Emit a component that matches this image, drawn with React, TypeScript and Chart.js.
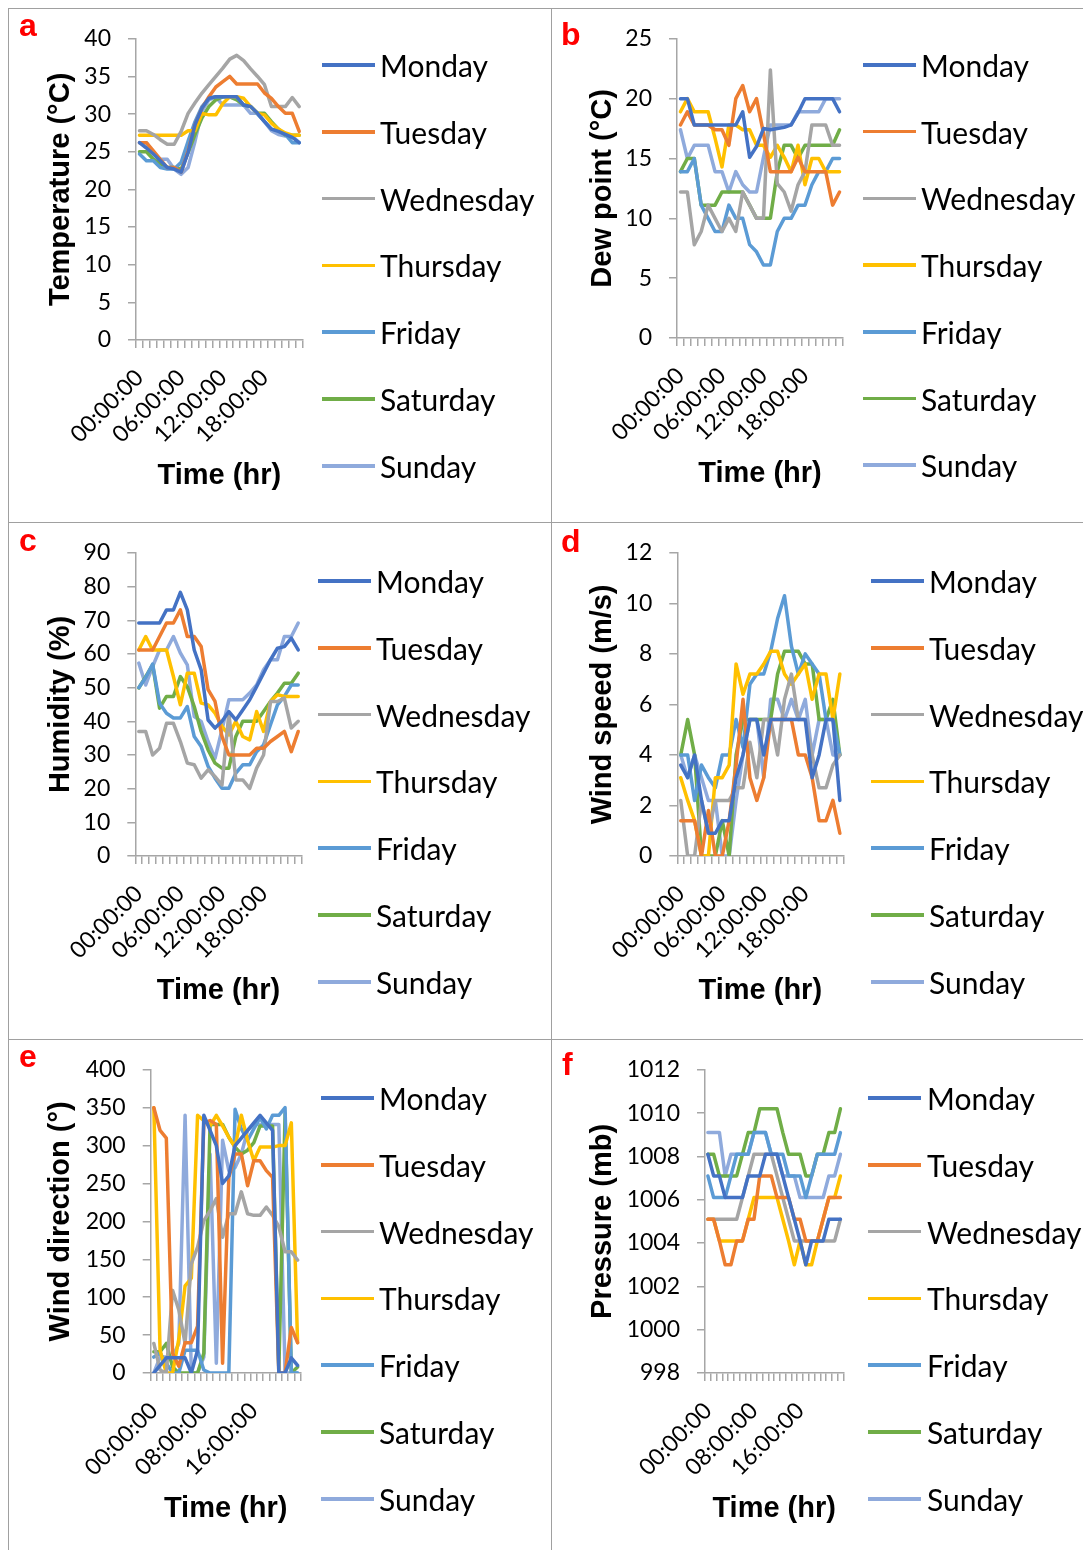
import React, { useEffect, useRef } from "react";
import { Chart, registerables } from "chart.js";

Chart.register(...registerables);

// ---- data -------------------------------------------------------------

const HOURS = [
  "00:00:00", "01:00:00", "02:00:00", "03:00:00", "04:00:00", "05:00:00",
  "06:00:00", "07:00:00", "08:00:00", "09:00:00", "10:00:00", "11:00:00",
  "12:00:00", "13:00:00", "14:00:00", "15:00:00", "16:00:00", "17:00:00",
  "18:00:00", "19:00:00", "20:00:00", "21:00:00", "22:00:00", "23:00:00",
];

const DAYS = ["Monday", "Tuesday", "Wednesday", "Thursday", "Friday", "Saturday", "Sunday"];
const DAY_COLORS = ["#4472C4", "#ED7D31", "#A5A5A5", "#FFC000", "#5B9BD5", "#70AD47", "#8FAADC"];

// one row per day, Monday..Sunday, hourly readings
const temperature = [
  [26.2, 25.5, 24.7, 23.8, 22.9, 22.7, 22.3, 24.9, 28.6, 30.8, 32.1, 32.3, 32.3, 32.3, 32.3, 31.2, 31, 30.1, 29, 28, 27.7, 27.3, 26.9, 26.2],
  [26.2, 26.2, 25.1, 24, 22.9, 22.9, 22.3, 25.1, 28.6, 30.8, 32.3, 33.6, 34.3, 35, 34, 34, 34, 34, 32.8, 32.1, 31, 30.1, 30.1, 27.7],
  [27.8, 27.8, 27.3, 26.6, 26, 26, 27.7, 30.1, 31.5, 32.8, 33.9, 35, 36.1, 37.3, 37.8, 37.1, 36, 35, 33.9, 31, 31, 31, 32.2, 31],
  [27.2, 27.2, 27.2, 27.2, 27.2, 27.2, 27.2, 27.8, 27.8, 30.1, 29.9, 29.9, 31.4, 32.3, 32.3, 32.1, 31, 30.1, 29.9, 28.8, 28, 27.5, 27.2, 27.2],
  [24.7, 23.8, 23.8, 22.9, 22.7, 22.7, 23.6, 26.4, 29, 31, 32.1, 32.3, 32.3, 32.3, 32.3, 31.2, 31, 30, 29, 28, 27.8, 27.3, 26.2, 26.2],
  [25, 25, 24, 23.4, 22.9, 22.9, 22.7, 24.9, 27.3, 29.5, 31, 31.9, 32.3, 32.3, 31.9, 31.2, 31, 30.1, 30.1, 29, 28, 27.2, 27.2, 27.2],
  [26.2, 26.2, 24.9, 24, 24, 22.7, 22, 22.9, 26.4, 30.4, 31.9, 32.3, 31.2, 31.2, 31.2, 31.2, 30.1, 30.1, 29, 27.8, 27.3, 27.1, 27.1, 26.2],
];

const dewPoint = [
  [20, 20, 17.8, 17.8, 17.8, 17.8, 17.8, 17.8, 17.8, 18.9, 15.1, 16, 17.5, 17.4, 17.5, 17.6, 17.8, 18.8, 20, 20, 20, 20, 20, 18.9],
  [17.8, 18.9, 17.8, 17.8, 17.8, 17.4, 17.4, 16.1, 20, 21.1, 18.9, 20, 17.1, 13.9, 13.9, 13.9, 13.9, 15.1, 13.9, 13.9, 13.9, 13.9, 11.1, 12.2],
  [12.2, 12.2, 7.8, 8.9, 11.1, 10, 8.9, 10, 8.9, 12.2, 11.1, 10, 10, 22.4, 12.9, 12.2, 10.6, 12.8, 13.9, 17.8, 17.8, 17.8, 16.1, 16.1],
  [18.9, 20, 18.9, 18.9, 18.9, 16.7, 14.3, 17.8, 17.8, 17.4, 17.4, 16.1, 16.1, 15.1, 16.1, 15.1, 13.9, 16.1, 12.8, 15, 15, 13.9, 13.9, 13.9],
  [13.9, 13.9, 15, 11.1, 10, 8.9, 8.9, 11.1, 10, 10, 7.8, 7.2, 6.1, 6.1, 8.9, 10, 10, 11.1, 11.1, 12.8, 13.9, 13.9, 15, 15],
  [13.9, 15, 15, 11.1, 11.1, 11.1, 12.2, 12.2, 12.2, 12.2, 11.1, 10, 10, 10, 13.9, 16.1, 16.1, 15, 16.1, 16.1, 16.1, 16.1, 16.1, 17.4],
  [17.4, 15, 16.1, 16.1, 16.1, 13.9, 13.9, 12.2, 13.9, 12.8, 12.2, 12.2, 15.1, 17.8, 17.8, 17.8, 17.8, 18.9, 18.9, 18.9, 18.9, 20, 20, 20],
];

const humidity = [
  [69.2, 69.2, 69.2, 69.2, 73.1, 73.1, 78.3, 73.1, 61.2, 55.3, 40.4, 38, 40, 42.9, 40.4, 43.4, 46.4, 50.3, 54.3, 58.3, 61.7, 62.2, 64.7, 61.2],
  [61.2, 61.2, 61.2, 65.2, 69.2, 69.2, 73.1, 65.2, 65.2, 62.2, 49.4, 45.9, 35.5, 30, 30, 30, 30, 32, 32, 34, 35.5, 37, 31, 37],
  [37, 37, 30, 32, 39.4, 39.4, 34, 27.6, 27.1, 23.1, 25.6, 23.6, 21.1, 42.4, 22.6, 22.6, 20.1, 26.1, 30, 45.9, 45.9, 46.9, 38, 40],
  [61.2, 65.2, 61.2, 61.2, 61.2, 53.3, 44.9, 54.3, 54.3, 45.4, 44.9, 42.4, 38.5, 36, 40, 35.5, 34.5, 42.9, 37, 45.9, 47.9, 47.4, 47.4, 47.4],
  [50, 53, 57, 45.4, 42.4, 41, 41, 44.4, 35.5, 32.5, 26.6, 23.1, 20.1, 20.1, 24.6, 27.1, 27.1, 31, 33, 39, 44.9, 47.4, 50.8, 50.8],
  [49.9, 53.3, 56.8, 43.9, 47.4, 47.4, 53.3, 50.3, 44.4, 37, 31.5, 27.6, 26.1, 26.1, 35.5, 40, 40, 40, 42.9, 45.9, 48.4, 51.3, 51.3, 54.3],
  [57.3, 50.8, 56.3, 61.2, 61.2, 65.2, 60.3, 56.8, 41.4, 40, 34, 29, 37.5, 46.4, 46.4, 46.4, 48.4, 50.8, 55.3, 58.3, 58.3, 65.2, 65.2, 69.2],
];

const windSpeed = [
  [3.6, 3.1, 4, 2.2, 0.9, 0.9, 1.4, 1.4, 3.1, 4, 5.4, 5.4, 4, 5.4, 5.4, 5.4, 5.4, 5.4, 5.4, 3.1, 4, 5.4, 5.4, 2.2],
  [1.4, 1.4, 1.4, 0, 1.8, 0, 0, 1.4, 3.6, 6.2, 3.1, 2.2, 3.1, 5.4, 5.4, 5.4, 5.4, 4, 4, 3.1, 1.4, 1.4, 2.2, 0.9],
  [2.2, 0, 0, 2.2, 0.9, 2.2, 2.2, 2.2, 2.7, 2.7, 4.5, 3.1, 5.4, 5.4, 4, 6.2, 7.2, 5.4, 5.4, 4, 2.7, 2.7, 3.6, 4],
  [3.1, 2.2, 1.4, 0, 0, 3.1, 3.1, 3.6, 7.6, 6.4, 7.2, 7.2, 7.6, 8.1, 8.1, 7.2, 6.8, 7.2, 7.6, 6.2, 7.2, 7.2, 5.4, 7.2],
  [4, 4, 2.2, 3.6, 3.1, 2.7, 4, 4, 5.4, 4.3, 6.8, 7.2, 7.2, 8.1, 9.4, 10.3, 8.3, 7.2, 8, 7.6, 7.2, 5.4, 5.4, 4],
  [4, 5.4, 4, 0, 0, 0, 1.4, 0, 4, 5.4, 5.4, 5.4, 5.4, 5.4, 7.2, 8.1, 8.1, 8.1, 7.6, 7.6, 5.4, 5.4, 6.2, 4],
  [4, 3.1, 4, 3.1, 2.2, 2.2, 0, 0, 2.2, 4, 5.4, 5.4, 3.1, 6.2, 6.2, 5.4, 6.2, 5.4, 6.2, 4, 5.4, 5.4, 4, 4],
];

const windDirection = [
  [0, 10, 20, 20, 20, 20, 0, 30, 340, 320, 300, 250, 260, 300, 310, 320, 330, 340, 330, 320, 0, 0, 20, 10],
  [350, 320, 310, 26, 9, 40, 40, 62, 330, 333, 328, 13, 258, 289, 289, 247, 280, 280, 267, 258, 0, 0, 60, 40],
  [39, 4, 0, 109, 83, 39, 144, 166, 201, 214, 230, 179, 210, 210, 239, 210, 208, 208, 219, 208, 193, 160, 160, 149],
  [350, 30, 0, 0, 45, 115, 125, 340, 333, 326, 340, 326, 311, 298, 340, 307, 280, 298, 298, 298, 300, 300, 330, 40],
  [21, 26, 13, 0, 0, 30, 30, 30, 4, 0, 0, 0, 0, 348, 322, 307, 322, 337, 322, 340, 340, 350, 0, 0],
  [28, 28, 39, 8, 0, 0, 0, 0, 26, 328, 328, 328, 311, 298, 289, 294, 304, 326, 326, 326, 4, 342, 0, 8],
  [0, 21, 21, 21, 39, 340, 0, 0, 21, 289, 13, 307, 267, 271, 289, 320, 328, 328, 328, 328, 328, 0, 0, 0],
];

const pressure = [
  [1008.1, 1007.1, 1007.1, 1006.1, 1006.1, 1006.1, 1006.1, 1007.1, 1007.1, 1007.1, 1008.1, 1008.1, 1008.1, 1007.1, 1006.1, 1005.1, 1004.1, 1003.0, 1004.1, 1004.1, 1004.1, 1005.1, 1005.1, 1005.1],
  [1005.1, 1005.1, 1004.1, 1003.0, 1003.0, 1004.1, 1004.1, 1005.1, 1005.1, 1007.1, 1007.1, 1007.1, 1006.1, 1006.1, 1006.1, 1005.1, 1005.1, 1004.1, 1004.1, 1004.1, 1005.1, 1006.1, 1006.1, 1006.1],
  [1005.1, 1005.1, 1005.1, 1005.1, 1005.1, 1005.1, 1006.1, 1007.1, 1008.1, 1008.1, 1008.1, 1008.1, 1007.1, 1006.1, 1005.1, 1004.1, 1004.1, 1004.1, 1004.1, 1004.1, 1004.1, 1004.1, 1004.1, 1005.1],
  [1005.1, 1005.1, 1004.1, 1004.1, 1004.1, 1004.1, 1004.1, 1005.1, 1006.1, 1006.1, 1006.1, 1006.1, 1006.1, 1005.1, 1004.1, 1003.0, 1004.1, 1003.0, 1003.0, 1004.1, 1005.1, 1006.1, 1006.1, 1007.1],
  [1007.1, 1006.1, 1006.1, 1006.1, 1007.1, 1008.1, 1008.1, 1008.1, 1009.1, 1009.1, 1009.1, 1008.1, 1008.1, 1008.1, 1007.1, 1007.1, 1007.1, 1006.1, 1007.1, 1008.1, 1008.1, 1008.1, 1008.1, 1009.1],
  [1008.1, 1008.1, 1007.1, 1007.1, 1007.1, 1007.1, 1008.1, 1009.1, 1009.1, 1010.2, 1010.2, 1010.2, 1010.2, 1009.1, 1008.1, 1008.1, 1008.1, 1007.1, 1007.1, 1008.1, 1008.1, 1009.1, 1009.1, 1010.2],
  [1009.1, 1009.1, 1009.1, 1007.1, 1008.1, 1008.1, 1008.1, 1008.1, 1009.1, 1009.1, 1009.1, 1008.1, 1008.1, 1007.1, 1007.1, 1007.1, 1006.1, 1006.1, 1006.1, 1006.1, 1006.1, 1007.1, 1007.1, 1008.1],
];

// ---- layout -----------------------------------------------------------

const AXIS_COLOR = "#A6A6A6";
const FRAME_COLOR = "#A0A0A0";
const TICK_FONT = { family: "Lato, 'Liberation Sans', sans-serif", size: 23 };
const TITLE_SIZE = 29;
const TITLE_FONT = { family: "'Liberation Sans', Arial, sans-serif", size: TITLE_SIZE, weight: "bold" as const, lineHeight: 1.2 };
const LEGEND_FONT_SIZE = 30;
const SERIES_WIDTH = 3.5;

type PanelSpec = {
  letter: string;
  letterX: number;
  letterBase: number;
  cellX: number;
  cellY: number;
  cellW: number;
  cellH: number;
  axisX: number;
  plotTop: number;
  plotBottom: number;
  plotRight: number;
  yTitle: string;
  yTitleX: number;
  xTitleY: number;
  yMin: number;
  yMax: number;
  yStep: number;
  labelEvery: number;
  legendLineX: number;
  legendTextX: number;
  legendY0: number;
  legendDY: number;
  series: number[][];
};

const PANELS: PanelSpec[] = [
  {
    letter: "a", letterX: 19, letterBase: 36,
    cellX: 8, cellY: 8, cellW: 543, cellH: 514,
    axisX: 136, plotTop: 37, plotBottom: 340, plotRight: 302.7,
    yTitle: "Temperature (°C)", yTitleX: 61, xTitleY: 476,
    yMin: 0, yMax: 40, yStep: 5, labelEvery: 6,
    legendLineX: 322, legendTextX: 380, legendY0: 65, legendDY: 66.8,
    series: temperature,
  },
  {
    letter: "b", letterX: 561, letterBase: 45,
    cellX: 551, cellY: 8, cellW: 540, cellH: 514,
    axisX: 677, plotTop: 37, plotBottom: 338, plotRight: 843,
    yTitle: "Dew point (°C)", yTitleX: 603, xTitleY: 474,
    yMin: 0, yMax: 25, yStep: 5, labelEvery: 6,
    legendLineX: 863, legendTextX: 921, legendY0: 65, legendDY: 66.7,
    series: dewPoint,
  },
  {
    letter: "c", letterX: 19, letterBase: 551,
    cellX: 8, cellY: 522, cellW: 543, cellH: 517,
    axisX: 135.3, plotTop: 553, plotBottom: 856, plotRight: 301.7,
    yTitle: "Humidity (%)", yTitleX: 61, xTitleY: 991,
    yMin: 0, yMax: 90, yStep: 10, labelEvery: 6,
    legendLineX: 318, legendTextX: 376, legendY0: 581, legendDY: 66.8,
    series: humidity,
  },
  {
    letter: "d", letterX: 561, letterBase: 552,
    cellX: 551, cellY: 522, cellW: 540, cellH: 517,
    axisX: 677.3, plotTop: 552, plotBottom: 856, plotRight: 843.3,
    yTitle: "Wind speed (m/s)", yTitleX: 603, xTitleY: 991,
    yMin: 0, yMax: 12, yStep: 2, labelEvery: 6,
    legendLineX: 871, legendTextX: 929, legendY0: 581, legendDY: 66.8,
    series: windSpeed,
  },
  {
    letter: "e", letterX: 19, letterBase: 1067,
    cellX: 8, cellY: 1039, cellW: 543, cellH: 511,
    axisX: 150.7, plotTop: 1069, plotBottom: 1373, plotRight: 300.7,
    yTitle: "Wind direction (°)", yTitleX: 61, xTitleY: 1509,
    yMin: 0, yMax: 400, yStep: 50, labelEvery: 8,
    legendLineX: 321, legendTextX: 379, legendY0: 1098, legendDY: 66.8,
    series: windDirection,
  },
  {
    letter: "f", letterX: 562, letterBase: 1075,
    cellX: 551, cellY: 1039, cellW: 540, cellH: 511,
    axisX: 705, plotTop: 1069, plotBottom: 1373, plotRight: 843.3,
    yTitle: "Pressure (mb)", yTitleX: 603, xTitleY: 1509,
    yMin: 998, yMax: 1012, yStep: 2, labelEvery: 8,
    legendLineX: 868, legendTextX: 927, legendY0: 1098, legendDY: 66.8,
    series: pressure,
  },
];

// page coordinates are measured from the window corner; the root sits at (8, 8)
const ORIGIN = 8;

function PanelChart({ p }: { p: PanelSpec }) {
  const ref = useRef<HTMLCanvasElement | null>(null);

  useEffect(() => {
    const canvas = ref.current;
    if (!canvas) return;
    const half = (TITLE_SIZE * 1.2) / 2;
    const padLeft = p.yTitleX - p.cellX - half;
    const padTop = p.plotTop - p.cellY;
    const padRight = p.cellX + p.cellW - p.plotRight;
    const padBottom = p.cellY + p.cellH - p.xTitleY - half;
    const yWidth = p.axisX - p.cellX - padLeft;
    const xHeight = p.cellY + p.cellH - padBottom - p.plotBottom;

    const chart = new Chart(canvas, {
      type: "line",
      data: {
        labels: HOURS,
        datasets: DAYS.map((day, k) => ({
          label: day,
          data: p.series[k],
          borderColor: DAY_COLORS[k],
          backgroundColor: DAY_COLORS[k],
          borderWidth: SERIES_WIDTH,
          pointRadius: 0,
          pointHoverRadius: 0,
          tension: 0,
          borderJoinStyle: "round" as const,
          borderCapStyle: "round" as const,
        })),
      },
      options: {
        animation: false,
        responsive: false,
        maintainAspectRatio: false,
        events: [],
        layout: { padding: { left: padLeft, top: padTop, right: padRight, bottom: padBottom } },
        plugins: { legend: { display: false }, tooltip: { enabled: false } },
        scales: {
          x: {
            type: "category",
            offset: true,
            grid: {
              offset: true,
              display: true,
              drawOnChartArea: false,
              drawTicks: true,
              tickLength: 8,
              color: AXIS_COLOR,
              lineWidth: 1.5,
            },
            border: { display: true, color: AXIS_COLOR, width: 1.5 },
            ticks: {
              autoSkip: false,
              maxRotation: 45,
              minRotation: 45,
              padding: 16,
              color: "#000",
              font: TICK_FONT,
              callback: (_v: any, i: number) => (i % p.labelEvery === 0 ? HOURS[i] : ""),
            },
            title: { display: true, text: "Time (hr)", color: "#000", font: TITLE_FONT, padding: 0 },
            afterFit: (scale: any) => {
              scale.height = xHeight;
            },
          },
          y: {
            min: p.yMin,
            max: p.yMax,
            grid: {
              display: true,
              drawOnChartArea: false,
              drawTicks: true,
              tickLength: 8,
              color: AXIS_COLOR,
              lineWidth: 1.5,
            },
            border: { display: true, color: AXIS_COLOR, width: 1.5 },
            ticks: {
              stepSize: p.yStep,
              padding: 17,
              color: "#000",
              font: TICK_FONT,
              callback: (v: any) => String(v),
            },
            title: { display: true, text: p.yTitle, color: "#000", font: TITLE_FONT, padding: 0 },
            afterFit: (scale: any) => {
              scale.width = yWidth;
            },
          },
        },
      },
    });
    return () => chart.destroy();
  }, [p]);

  return (
    <canvas
      ref={ref}
      width={p.cellW}
      height={p.cellH}
      style={{
        position: "absolute",
        left: p.cellX - ORIGIN,
        top: p.cellY - ORIGIN,
        width: p.cellW,
        height: p.cellH,
      }}
    />
  );
}

function Legend({ p }: { p: PanelSpec }) {
  return (
    <>
      {DAYS.map((day, k) => {
        const y = p.legendY0 + k * p.legendDY - ORIGIN;
        return (
          <React.Fragment key={day}>
            <div
              style={{
                position: "absolute",
                left: p.legendLineX - ORIGIN,
                top: y - 1.75,
                width: 53,
                height: 3.5,
                background: DAY_COLORS[k],
              }}
            />
            <div
              style={{
                position: "absolute",
                left: p.legendTextX - ORIGIN,
                top: y - 20,
                height: 40,
                lineHeight: "40px",
                fontFamily: "Lato, 'Liberation Sans', sans-serif",
                fontSize: LEGEND_FONT_SIZE,
                color: "#000",
                whiteSpace: "nowrap",
              }}
            >
              {day}
            </div>
          </React.Fragment>
        );
      })}
    </>
  );
}

function PanelLetter({ p }: { p: PanelSpec }) {
  return (
    <div
      style={{
        position: "absolute",
        left: p.letterX - ORIGIN,
        top: p.letterBase - 27 - ORIGIN,
        height: 32,
        lineHeight: "32px",
        fontFamily: "'Liberation Sans', Arial, sans-serif",
        fontWeight: "bold",
        fontSize: 32,
        color: "#FF0000",
      }}
    >
      {p.letter}
    </div>
  );
}

function Frame() {
  const line = (left: number, top: number, width: number, height: number, key: string) => (
    <div
      key={key}
      style={{ position: "absolute", left: left - ORIGIN, top: top - ORIGIN, width, height, background: FRAME_COLOR }}
    />
  );
  return (
    <>
      {line(8, 8, 1083, 1, "top")}
      {line(8, 8, 1, 1542, "left")}
      {line(551, 8, 1, 1542, "mid")}
      {line(8, 522, 1083, 1, "row1")}
      {line(8, 1039, 1083, 1, "row2")}
    </>
  );
}

export default function App() {
  return (
    <div style={{ position: "relative", width: 1083, height: 1542, background: "#fff", overflow: "hidden" }}>
      <Frame />
      {PANELS.map((p) => (
        <React.Fragment key={p.letter}>
          <PanelChart p={p} />
          <Legend p={p} />
          <PanelLetter p={p} />
        </React.Fragment>
      ))}
    </div>
  );
}
